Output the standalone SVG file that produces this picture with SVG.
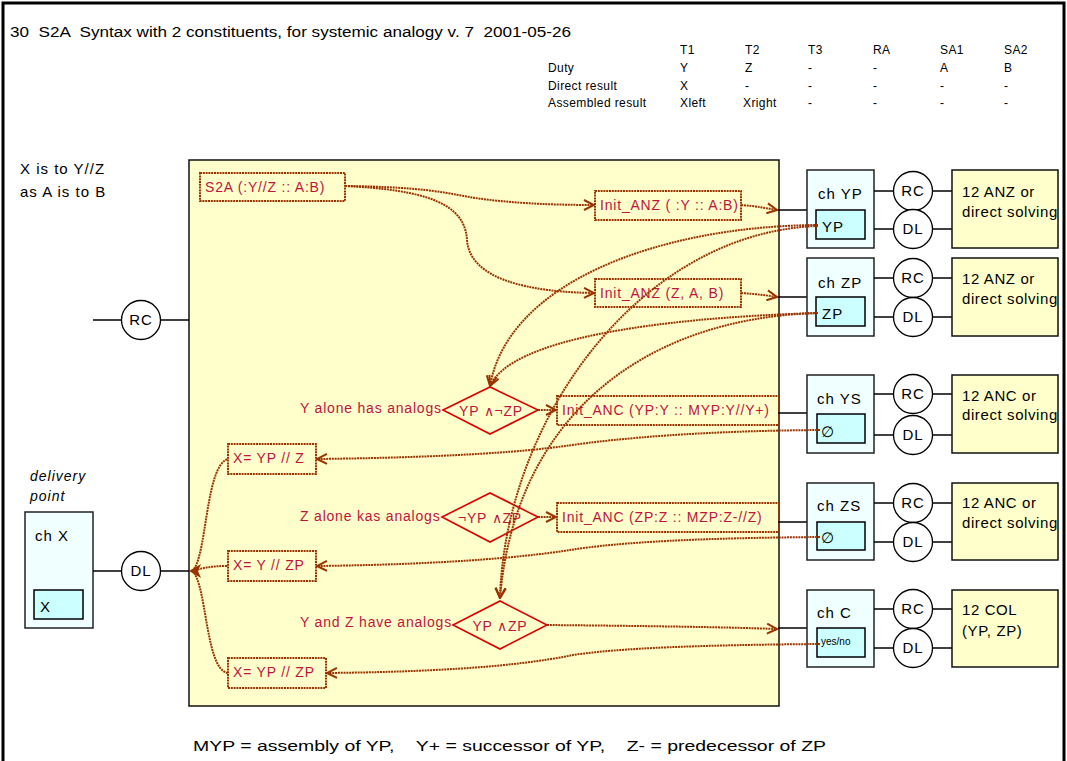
<svg xmlns="http://www.w3.org/2000/svg" width="1067" height="761" viewBox="0 0 1067 761">
<defs>
<style>
.t{font-family:"Liberation Sans",Arial,sans-serif;fill:#000}
.pre{white-space:pre}
.hd{font-size:12px;letter-spacing:0.4px}
.bt{font-size:15px;letter-spacing:1px}
.bx{font-size:15px;letter-spacing:0.6px}
.rt{font-family:"Liberation Sans",Arial,sans-serif;font-size:14px;fill:#C0143C;letter-spacing:0.8px}
.cn{fill:none;stroke:#993300;stroke-width:2;stroke-dasharray:2 0.8}
.db{fill:none;stroke:#993300;stroke-width:2;stroke-dasharray:2 0.8}
.dm{fill:none;stroke:#DD0000;stroke-width:1.6}
.ln{stroke:#000;stroke-width:1.5;fill:none}
.ch{fill:#F0FFFF;stroke:#222;stroke-width:1.5}
.in{fill:#CCFFFF;stroke:#000;stroke-width:1.5}
.sv{fill:#FFFFCC;stroke:#111;stroke-width:1.5}
.cc{fill:#fff;stroke:#000;stroke-width:1.3}
</style>
<marker id="ah" viewBox="0 0 12 12" refX="11" refY="6" markerWidth="12" markerHeight="12" markerUnits="userSpaceOnUse" orient="auto">
<path d="M1,1 L11,6 L1,11" fill="none" stroke="#993300" stroke-width="2"/>
</marker>
</defs>
<rect x="0" y="0" width="1067" height="761" fill="#fff"/>
<path d="M3,770 V3 H1064 V770" fill="none" stroke="#000" stroke-width="3"/>

<g id="header">
<text class="t pre" x="10" y="37" font-size="14" textLength="561" lengthAdjust="spacingAndGlyphs">30  S2A  Syntax with 2 constituents, for systemic analogy v. 7  2001-05-26</text>
<g class="t hd">
<text x="680" y="54">T1</text><text x="745" y="54">T2</text><text x="808" y="54">T3</text><text x="873" y="54">RA</text><text x="940" y="54">SA1</text><text x="1004" y="54">SA2</text>
<text x="548" y="72">Duty</text><text x="680" y="72">Y</text><text x="745" y="72">Z</text><text x="808" y="72">-</text><text x="873" y="72">-</text><text x="940" y="72">A</text><text x="1004" y="72">B</text>
<text x="548" y="90">Direct result</text><text x="680" y="90">X</text><text x="745" y="90">-</text><text x="808" y="90">-</text><text x="873" y="90">-</text><text x="940" y="90">-</text><text x="1004" y="90">-</text>
<text x="548" y="107">Assembled result</text><text x="680" y="107">Xleft</text><text x="743" y="107">Xright</text><text x="808" y="107">-</text><text x="873" y="107">-</text><text x="940" y="107">-</text><text x="1004" y="107">-</text>
</g>
<text class="t bt" x="20" y="174">X is to Y//Z</text>
<text class="t bt" x="20" y="197">as A is to B</text>
</g>

<g id="s2a-frame">
<rect class="sv" x="189" y="160" width="590" height="546"/>
</g>

<g id="rc-left">
<line class="ln" x1="93" y1="320" x2="122" y2="320"/>
<line class="ln" x1="161" y1="320" x2="189" y2="320"/>
<circle class="cc" cx="141" cy="320" r="19.5"/>
<text class="t bt" x="141" y="325" text-anchor="middle">RC</text>
</g>

<g id="chX">
<text class="t" x="30" y="481" font-size="14" font-style="italic" letter-spacing="1">delivery</text>
<text class="t" x="30" y="501" font-size="14" font-style="italic" letter-spacing="1">point</text>
<rect class="ch" x="25" y="512" width="68" height="116"/>
<text class="t bt" x="35" y="541">ch X</text>
<rect class="in" x="34" y="590" width="49" height="29"/>
<text class="t bt" x="40" y="612">X</text>
<line class="ln" x1="93" y1="571" x2="122" y2="571"/>
<line class="ln" x1="161" y1="571" x2="189" y2="571"/>
<circle class="cc" cx="141" cy="571" r="19.5"/>
<text class="t bt" x="141" y="576" text-anchor="middle">DL</text>
</g>

<g id="n-s2a"><rect class="db" x="200" y="173" width="145" height="28"/><text class="rt" x="205" y="192">S2A (:Y//Z :: A:B)</text></g>
<g id="n-anz1"><rect class="db" x="595" y="191" width="146" height="29"/><text class="rt" x="600" y="210">Init_ANZ ( :Y :: A:B)</text></g>
<g id="n-anz2"><rect class="db" x="595" y="279" width="146" height="28"/><text class="rt" x="600" y="298">Init_ANZ (Z, A, B)</text></g>
<g id="n-anc1"><rect class="db" x="557" y="396" width="222" height="29"/><text class="rt" x="562" y="415">Init_ANC (YP:Y :: MYP:Y//Y+)</text></g>
<g id="n-anc2"><rect class="db" x="557" y="503" width="222" height="29"/><text class="rt" x="562" y="522">Init_ANC (ZP:Z :: MZP:Z-//Z)</text></g>

<g id="d1"><polygon class="dm" points="443,410 490,387 538,410 490,434"/><text class="rt" x="491" y="416" text-anchor="middle">YP ∧¬ZP</text><text class="rt" x="300" y="413">Y alone has analogs</text></g>
<g id="d2"><polygon class="dm" points="442,517 490,493 538,517 490,542"/><text class="rt" x="490" y="523" text-anchor="middle">¬YP ∧ZP</text><text class="rt" x="300" y="521">Z alone kas analogs</text></g>
<g id="d3"><polygon class="dm" points="453,625 500,601 547,625 500,649"/><text class="rt" x="500" y="631" text-anchor="middle">YP ∧ZP</text><text class="rt" x="300" y="627">Y and Z have analogs</text></g>

<g id="r1"><rect class="db" x="228" y="444" width="88" height="30"/><text class="rt" x="233" y="463">X= YP // Z</text></g>
<g id="r2"><rect class="db" x="228" y="551" width="88" height="30"/><text class="rt" x="233" y="570">X= Y // ZP</text></g>
<g id="r3"><rect class="db" x="228" y="658" width="98" height="30"/><text class="rt" x="233" y="677">X= YP // ZP</text></g>

<g id="chYP">
<line class="ln" x1="778" y1="210" x2="807" y2="210"/>
<rect class="ch" x="807" y="170" width="67" height="78"/>
<text class="t bt" x="818" y="199">ch YP</text>
<rect class="in" x="816" y="210" width="49" height="29"/>
<text class="t bt" x="822" y="232">YP</text>
<line class="ln" x1="874" y1="191" x2="952" y2="191"/><line class="ln" x1="874" y1="229" x2="952" y2="229"/>
<circle class="cc" cx="913" cy="191" r="19.5"/><text class="t bt" x="913" y="196" text-anchor="middle">RC</text>
<circle class="cc" cx="913" cy="229" r="19.5"/><text class="t bt" x="913" y="234" text-anchor="middle">DL</text>
<rect class="sv" x="952" y="170" width="106" height="78"/>
<text class="t bx" x="962" y="197">12 ANZ or</text><text class="t bx" x="962" y="217">direct solving</text>
</g>

<g id="chZP">
<line class="ln" x1="778" y1="297" x2="807" y2="297"/>
<rect class="ch" x="807" y="258" width="67" height="78"/>
<text class="t bt" x="818" y="288">ch ZP</text>
<rect class="in" x="816" y="297" width="49" height="29"/>
<text class="t bt" x="822" y="319">ZP</text>
<line class="ln" x1="874" y1="278" x2="952" y2="278"/><line class="ln" x1="874" y1="317" x2="952" y2="317"/>
<circle class="cc" cx="913" cy="278" r="19.5"/><text class="t bt" x="913" y="283" text-anchor="middle">RC</text>
<circle class="cc" cx="913" cy="317" r="19.5"/><text class="t bt" x="913" y="322" text-anchor="middle">DL</text>
<rect class="sv" x="952" y="258" width="106" height="78"/>
<text class="t bx" x="962" y="284">12 ANZ or</text><text class="t bx" x="962" y="304">direct solving</text>
</g>

<g id="chYS">
<line class="ln" x1="778" y1="413" x2="807" y2="413"/>
<rect class="ch" x="807" y="375" width="67" height="78"/>
<text class="t bt" x="817" y="404">ch YS</text>
<rect class="in" x="817" y="414" width="48" height="29"/>
<text class="t bt" x="821" y="437">∅</text>
<line class="ln" x1="874" y1="394" x2="952" y2="394"/><line class="ln" x1="874" y1="435" x2="952" y2="435"/>
<circle class="cc" cx="913" cy="394" r="19.5"/><text class="t bt" x="913" y="399" text-anchor="middle">RC</text>
<circle class="cc" cx="913" cy="435" r="19.5"/><text class="t bt" x="913" y="440" text-anchor="middle">DL</text>
<rect class="sv" x="952" y="375" width="106" height="78"/>
<text class="t bx" x="962" y="401">12 ANC or</text><text class="t bx" x="962" y="420">direct solving</text>
</g>

<g id="chZS">
<line class="ln" x1="778" y1="522" x2="807" y2="522"/>
<rect class="ch" x="807" y="483" width="67" height="77"/>
<text class="t bt" x="817" y="511">ch ZS</text>
<rect class="in" x="817" y="522" width="48" height="28"/>
<text class="t bt" x="821" y="543">∅</text>
<line class="ln" x1="874" y1="503" x2="952" y2="503"/><line class="ln" x1="874" y1="542" x2="952" y2="542"/>
<circle class="cc" cx="913" cy="503" r="19.5"/><text class="t bt" x="913" y="508" text-anchor="middle">RC</text>
<circle class="cc" cx="913" cy="542" r="19.5"/><text class="t bt" x="913" y="547" text-anchor="middle">DL</text>
<rect class="sv" x="952" y="483" width="106" height="77"/>
<text class="t bx" x="962" y="508">12 ANC or</text><text class="t bx" x="962" y="528">direct solving</text>
</g>

<g id="chC">
<line class="ln" x1="778" y1="628" x2="807" y2="628"/>
<rect class="ch" x="807" y="590" width="67" height="77"/>
<text class="t bt" x="817" y="618">ch C</text>
<rect class="in" x="817" y="628" width="48" height="29"/>
<text class="t" x="821" y="645" font-size="10">yes/no</text>
<line class="ln" x1="874" y1="609" x2="952" y2="609"/><line class="ln" x1="874" y1="648" x2="952" y2="648"/>
<circle class="cc" cx="913" cy="609" r="19.5"/><text class="t bt" x="913" y="614" text-anchor="middle">RC</text>
<circle class="cc" cx="913" cy="648" r="19.5"/><text class="t bt" x="913" y="653" text-anchor="middle">DL</text>
<rect class="sv" x="952" y="590" width="106" height="77"/>
<text class="t bx" x="962" y="615">12 COL</text><text class="t bx" x="962" y="636">(YP, ZP)</text>
</g>

<g id="connectors">
<path class="cn" marker-end="url(#ah)" d="M345,186 C430,187 450,194 475,198 C510,203 550,205 594,205"/>
<path class="cn" marker-end="url(#ah)" d="M345,186 C430,190 465,205 467,240 C470,280 530,292 594,293"/>
<path class="cn" marker-end="url(#ah)" d="M741,205 C755,206 765,208 777,210"/>
<path class="cn" marker-end="url(#ah)" d="M741,293 C755,294 765,295 777,297"/>
<path class="cn" marker-end="url(#ah)" d="M818,225 C660,226 508,282 490,386"/>
<path class="cn" marker-end="url(#ah)" d="M818,313 C650,318 510,340 490,386"/>
<path class="cn" marker-end="url(#ah)" d="M818,226 C640,232 505,420 500,598"/>
<path class="cn" marker-end="url(#ah)" d="M818,313 C640,318 515,420 500,598"/>
<path class="cn" marker-end="url(#ah)" d="M538,410 L556,410"/>
<path class="cn" marker-end="url(#ah)" d="M538,517 L556,517"/>
<path class="cn" marker-end="url(#ah)" d="M547,625 C650,626 720,627 777,629"/>
<path class="cn" marker-end="url(#ah)" d="M820,430 C700,431 620,438 565,446 C500,455 400,458 317,459"/>
<path class="cn" marker-end="url(#ah)" d="M820,537 C700,538 620,542 570,550 C500,561 400,565 317,566"/>
<path class="cn" marker-end="url(#ah)" d="M820,644 C700,645 620,648 573,655 C510,668 420,672 327,673"/>
<path class="cn" d="M192,571 C207,560 205,465 228,459"/>
<path class="cn" d="M192,571 C205,567 215,566 228,566"/>
<path class="cn" d="M192,571 C207,582 205,670 228,673"/>
<polygon points="189,571 201,564 198,571 201,578" fill="#993300"/>
</g>

<text class="t pre" x="193" y="751" font-size="14" textLength="633" lengthAdjust="spacingAndGlyphs">MYP = assembly of YP,    Y+ = successor of YP,    Z- = predecessor of ZP</text>
</svg>
